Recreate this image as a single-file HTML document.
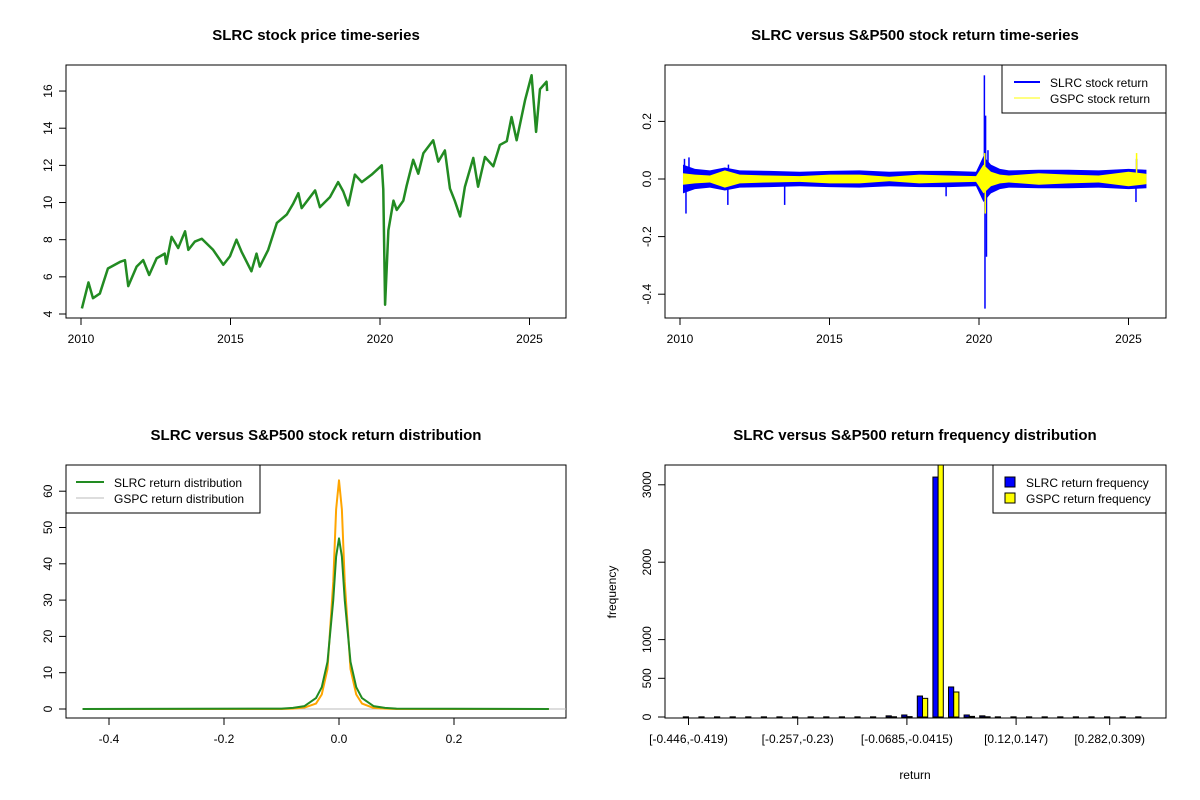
<!DOCTYPE html>
<html><head><meta charset="utf-8"><style>
body{margin:0;background:#fff}
svg{font-family:"Liberation Sans",Arial,sans-serif;display:block}
.t{font-weight:bold;font-size:15px;text-anchor:middle}
.k{font-size:12px}
</style></head><body>
<svg id="c" width="1200" height="800" xmlns="http://www.w3.org/2000/svg"></svg>
<script>
// ---- data ----
const priceYears=[2010.03,2010.25,2010.4,2010.63,2010.9,2011.3,2011.47,2011.58,2011.86,2012.08,2012.28,2012.53,2012.8,2012.85,2013.03,2013.25,2013.48,2013.59,2013.81,2014.04,2014.42,2014.76,2014.98,2015.2,2015.37,2015.7,2015.87,2015.98,2016.26,2016.55,2016.88,2017.1,2017.27,2017.38,2017.83,2017.99,2018.33,2018.6,2018.77,2018.94,2019.16,2019.39,2019.72,2020.06,2020.11,2020.17,2020.28,2020.45,2020.56,2020.78,2020.89,2021.11,2021.28,2021.45,2021.78,2021.95,2022.17,2022.34,2022.5,2022.68,2022.84,2023.12,2023.28,2023.51,2023.79,2024.01,2024.24,2024.4,2024.57,2024.85,2025.07,2025.22,2025.35,2025.57,2025.59];
const priceValues=[4.3,5.7,4.85,5.1,6.45,6.8,6.9,5.5,6.55,6.9,6.1,7.0,7.25,6.7,8.15,7.55,8.45,7.45,7.9,8.05,7.45,6.65,7.1,8.0,7.35,6.3,7.25,6.55,7.45,8.9,9.35,9.95,10.5,9.7,10.65,9.75,10.3,11.1,10.6,9.85,11.5,11.1,11.5,12.0,10.7,4.5,8.5,10.1,9.6,10.1,10.9,12.3,11.55,12.65,13.35,12.2,12.8,10.75,10.1,9.25,10.85,12.4,10.85,12.45,11.95,13.1,13.3,14.6,13.35,15.5,16.85,13.8,16.1,16.5,16.0];
const yearTicks=[2010,2015,2020,2025];
const priceTicks=[4,6,8,10,12,14,16];
const envYears=[2010.1,2010.5,2011,2011.5,2012,2013,2014,2015,2016,2017,2018,2019,2019.9,2020.15,2020.4,2020.7,2021,2022,2023,2024,2025,2025.6];
const slrcEnv=[0.05,0.035,0.03,0.04,0.03,0.028,0.025,0.028,0.03,0.025,0.028,0.028,0.025,0.08,0.05,0.035,0.03,0.032,0.032,0.03,0.035,0.032];
const gspcEnv=[0.02,0.015,0.012,0.03,0.015,0.012,0.01,0.015,0.015,0.008,0.015,0.012,0.01,0.05,0.025,0.015,0.012,0.02,0.015,0.012,0.025,0.018];
const slrcSpikeYears=[2010.15,2010.2,2010.3,2011.6,2011.62,2013.5,2018.9,2020.18,2020.2,2020.22,2020.25,2020.3,2025.25,2025.27];
const slrcSpikeValues=[0.07,-0.12,0.075,-0.09,0.05,-0.09,-0.06,0.36,-0.45,0.22,-0.27,0.1,-0.08,0.07];
const gspcSpikeYears=[2020.19,2020.21,2025.27];
const gspcSpikeValues=[0.09,-0.12,0.09];
const retTicks=[-0.4,-0.2,0.0,0.2];
const densX=[-0.446,-0.1,-0.08,-0.06,-0.04,-0.03,-0.02,-0.01,-0.005,0,0.005,0.01,0.02,0.03,0.04,0.06,0.08,0.1,0.365];
const slrcDens=[0,0.1,0.3,0.8,3,6,13,30,42,47,42,30,13,6,3,0.8,0.3,0.1,0];
const gspcDens=[0,0,0.1,0.4,1.5,4,11,35,55,63,55,35,11,4,1.5,0.3,0.1,0,0];
const densXTicks=[-0.4,-0.2,0.0,0.2];
const densYTicks=[0,10,20,30,40,50,60];
const slrcFreq=[2,2,2,2,2,2,2,2,2,2,2,2,2,15,26,271,3100,388,26,15,2,2,2,2,2,2,2,2,2,2];
const gspcFreq=[0,0,0,0,0,0,0,0,0,0,0,0,0,3,5,241,3500,323,8,3,0,0,0,0,0,0,0,0,0,0];
const binLabels=["[-0.446,-0.419)","[-0.257,-0.23)","[-0.0685,-0.0415)","[0.12,0.147)","[0.282,0.309)"];
const binLabelIdx=[0,7,14,21,27];
const freqTicks=[0,500,1000,2000,3000];

// ---- helpers ----
const S=document.getElementById('c');const NS='http://www.w3.org/2000/svg';
function el(tag,a,txt){const e=document.createElementNS(NS,tag);for(const k in a)e.setAttribute(k,a[k]);if(txt!==undefined)e.textContent=txt;S.appendChild(e);return e;}
const yr1=y=>81+(y-2010)*29.9, pr=v=>314-(v-4)*18.58;
const yr2=y=>680+(y-2010)*29.9, rt=v=>179-v*288;
const dx=v=>339+v*575, dy=v=>709-v*3.63;
const fy=v=>717-v*0.0774, gx=i=>683.3+15.6*i;
function box(x1,y1,x2,y2,n){const e=el('rect',{x:x1,y:y1,width:x2-x1,height:y2-y1,fill:'none',stroke:'#000'});}
function title(x,y,s,n){const e=el('text',{x:x,y:y,class:'t'},s);}
function xtick(x,y,s){el('line',{x1:x,x2:x,y1:y,y2:y+7,stroke:'#000'});const e=el('text',{x:x,y:y+25,class:'k','text-anchor':'middle'},s);}
function ytick(x,y,s){el('line',{x1:x-7,x2:x,y1:y,y2:y,stroke:'#000'});const e=el('text',{x:0,y:0,class:'k','text-anchor':'middle',transform:`translate(${x-14},${y}) rotate(-90)`},s);}
function poly(pts,c,w,n){const e=el('polyline',{points:pts.map(p=>p.join(',')).join(' '),fill:'none',stroke:c,'stroke-width':w,'stroke-linejoin':'round'});}

// ---- panel 1 ----
title(316,40,'SLRC stock price time-series','price-chart-title');
box(66,65,566,318,'price-plot-area');
yearTicks.forEach(t=>xtick(yr1(t),318,t));
priceTicks.forEach(t=>ytick(66,pr(t),t));
poly(priceYears.map((y,i)=>[yr1(y),pr(priceValues[i])]),'#228B22',2.5,'slrc-price-line');

// ---- panel 2 ----
title(915,40,'SLRC versus S&P500 stock return time-series','return-chart-title');
yearTicks.forEach(t=>xtick(yr2(t),318,t));
retTicks.forEach(t=>ytick(665,rt(t),t.toFixed(1)));
function band(env,c,n){const up=envYears.map((y,i)=>[yr2(y),rt(env[i])]);const dn=envYears.map((y,i)=>[yr2(y),rt(-env[i])]).reverse();const e=el('polygon',{points:up.concat(dn).map(p=>p.join(',')).join(' '),fill:c});}
band(slrcEnv,'#0000ff','slrc-return-band');
slrcSpikeYears.forEach((y,i)=>{const e=el('line',{x1:yr2(y),x2:yr2(y),y1:rt(0),y2:rt(slrcSpikeValues[i]),stroke:'#0000ff','stroke-width':1.5});});
band(gspcEnv,'#ffff00','gspc-return-band');
gspcSpikeYears.forEach((y,i)=>{const e=el('line',{x1:yr2(y),x2:yr2(y),y1:rt(0),y2:rt(gspcSpikeValues[i]),stroke:'#ffff00','stroke-width':1.5});});
box(665,65,1166,318,'return-plot-area');
box(1002,65,1166,113,'return-legend');
el('line',{x1:1014,x2:1040,y1:82,y2:82,stroke:'#00f','stroke-width':2});
el('text',{x:1050,y:87,class:'k'},'SLRC stock return');
el('line',{x1:1014,x2:1040,y1:98,y2:98,stroke:'#ff0','stroke-width':1});
el('text',{x:1050,y:103,class:'k'},'GSPC stock return');

// ---- panel 3 ----
title(316,440,'SLRC versus S&P500 stock return distribution','distribution-chart-title');
box(66,465,566,718,'distribution-plot-area');
densXTicks.forEach(t=>xtick(dx(t),718,t.toFixed(1)));
densYTicks.forEach(t=>ytick(66,dy(t),t));
el('line',{x1:dx(-0.446),x2:566,y1:dy(0),y2:dy(0),stroke:'#bbb'});
poly(densX.map((x,i)=>[dx(x),dy(gspcDens[i])]),'#FFA500',2,'gspc-density-line');
poly(densX.map((x,i)=>[dx(x),dy(slrcDens[i])]),'#228B22',2,'slrc-density-line');
box(66,465,260,513,'distribution-legend');
el('line',{x1:76,x2:104,y1:482,y2:482,stroke:'#228B22','stroke-width':2});
el('text',{x:114,y:487,class:'k'},'SLRC return distribution');
el('line',{x1:76,x2:104,y1:498,y2:498,stroke:'#bbb'});
el('text',{x:114,y:503,class:'k'},'GSPC return distribution');

// ---- panel 4 ----
title(915,440,'SLRC versus S&P500 return frequency distribution','frequency-chart-title');
const cp=el('clipPath',{id:'cp4'});const cr=document.createElementNS(NS,'rect');cr.setAttribute('x',665);cr.setAttribute('y',465);cr.setAttribute('width',501);cr.setAttribute('height',253);cp.appendChild(cr);
slrcFreq.forEach((v,i)=>{const b=el('rect',{x:gx(i),y:fy(v),width:5.2,height:fy(0)-fy(v),fill:'#0000ff',stroke:'#000','clip-path':'url(#cp4)'});
const g=el('rect',{x:gx(i)+5.2,y:fy(gspcFreq[i]),width:5.2,height:fy(0)-fy(gspcFreq[i]),fill:'#ffff00',stroke:'#000','clip-path':'url(#cp4)'});});
box(665,465,1166,718,'frequency-plot-area');
binLabelIdx.forEach((i,k)=>xtick(gx(i)+5.2,718,binLabels[k]));
freqTicks.forEach(t=>ytick(665,fy(t),t));
const yl=el('text',{x:0,y:0,class:'k','text-anchor':'middle',transform:'translate(616,592) rotate(-90)'},'frequency');
const xl=el('text',{x:915,y:779,class:'k','text-anchor':'middle'},'return');
box(993,465,1166,513,'frequency-legend');
el('rect',{x:1005,y:477,width:10,height:10,fill:'#00f',stroke:'#000'});
el('text',{x:1026,y:487,class:'k'},'SLRC return frequency');
el('rect',{x:1005,y:493,width:10,height:10,fill:'#ff0',stroke:'#000'});
el('text',{x:1026,y:503,class:'k'},'GSPC return frequency');
</script>
</body></html>
